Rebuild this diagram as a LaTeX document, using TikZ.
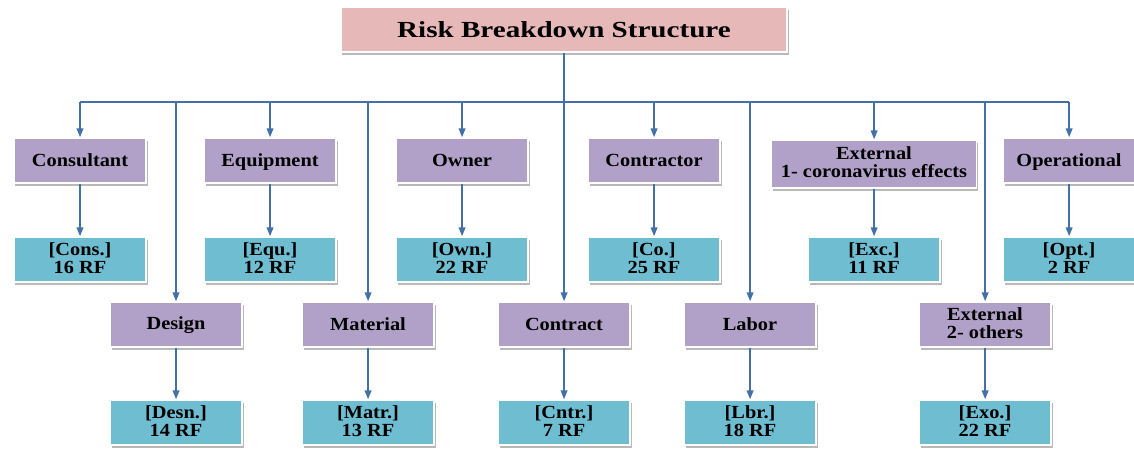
\documentclass[tikz,border=0pt]{standalone}
\usepackage{fontspec}
\setmainfont{Liberation Serif}[BoldFont={Liberation Serif Bold}]
\usetikzlibrary{arrows.meta,shadows}

\definecolor{catfill}{HTML}{B1A0C7}
\definecolor{rffill}{HTML}{6FBDD1}
\definecolor{titlefill}{HTML}{E6B9B8}
\definecolor{linkcol}{HTML}{4470A8}

\newcommand{\rbsstrut}{\rule[-3pt]{0pt}{18pt}}

\begin{document}
\begin{tikzpicture}[x=0.90909pt,y=-1pt,xscale=1.1,
	box/.style={transform shape, draw=white, line width=1.2pt, inner sep=0pt, align=center,
		font=\fontsize{18.5}{18}\selectfont\bfseries,
		execute at begin node=\rbsstrut, execute at end node=\rbsstrut,
		drop shadow={shadow xshift=1.5pt, shadow yshift=-2.5pt, fill=black!50, opacity=.55}},
	cat/.style={box, fill=catfill, minimum width=120pt, minimum height=45pt},
	rf/.style={box, fill=rffill, minimum width=120pt, minimum height=45pt},
	titlebox/.style={box, fill=titlefill, minimum width=405.5pt, minimum height=45pt,
		font=\fontsize{23}{25}\selectfont\bfseries,
		execute at begin node=\rule[-2pt]{0pt}{21pt}, execute at end node=\rule[-2pt]{0pt}{21pt}},
	link/.style={draw=linkcol, line width=2pt},
	arr/.style={link, -{Triangle[length=9pt,width=6.5pt]}}]
	
	\useasboundingbox (0,0) rectangle (1134,450);
	
	\node[titlebox] (rbs) at (564,29.5) {\scalebox{1.15}[1]{Risk Breakdown Structure}};
	
	% first row
	\foreach \n/\x/\t/\r in {cons/80/Consultant/{[Cons.]\\16 RF}, equ/270/Equipment/{[Equ.]\\12 RF},
		own/462/Owner/{[Own.]\\22 RF}, co/654/Contractor/{[Co.]\\25 RF}, opt/1069/Operational/{[Opt.]\\2 RF}}
	{
		\node[cat] (\n) at (\x,160.5) {\t};
		\node[rf] (\n-rf) at (\x,259.5) {\r};
	}
	\node[cat, minimum width=187pt, minimum height=48pt] (exc) at (874,164) {External\\1- coronavirus effects};
	\node[rf] (exc-rf) at (874,259.5) {[Exc.]\\11 RF};
	
	% second row
	\foreach \n/\x/\t/\r in {des/176/Design/{[Desn.]\\14 RF}, mat/368/Material/{[Matr.]\\13 RF},
		cntr/564/Contract/{[Cntr.]\\7 RF}, lbr/750/Labor/{[Lbr.]\\18 RF}, exo/985/{External\\2- others}/{[Exo.]\\22 RF}}
	{
		\node[cat] (\n) at (\x,324.5) {\t};
		\node[rf] (\n-rf) at (\x,422.5) {\r};
	}
	
	\coordinate (bus) at (564,102);
	\draw[link] (rbs.south) -- (bus);
	\draw[link] (bus -| cons.north) -- (bus -| opt.north);
	
	\foreach \n in {cons,equ,own,co,exc,opt,des,mat,cntr,lbr,exo}
	{
		\draw[arr] (bus -| \n.north) -- (\n.north);
		\draw[arr] (\n.south) -- (\n-rf.north);
	}
	
\end{tikzpicture}
\end{document}
